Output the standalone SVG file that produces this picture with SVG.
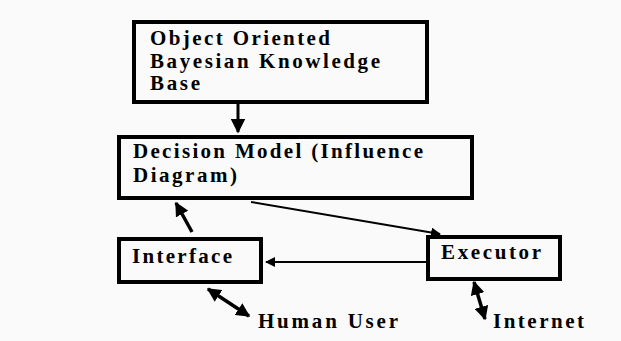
<svg xmlns="http://www.w3.org/2000/svg" width="621" height="341" viewBox="0 0 621 341">
<defs>
<marker id="ah" viewBox="0 0 10 10" refX="9" refY="5" markerWidth="5" markerHeight="5" markerUnits="strokeWidth" orient="auto-start-reverse">
<path d="M0,0 L10,5 L0,10 z" fill="#000"/>
</marker>
<marker id="ah2" viewBox="0 0 10 10" refX="9" refY="5" markerWidth="4" markerHeight="4" markerUnits="strokeWidth" orient="auto-start-reverse">
<path d="M0,0 L10,5 L0,10 z" fill="#000"/>
</marker>
</defs>
<style>
.box{fill:#fafafa;stroke:#000;stroke-width:4}
.c{stroke:#000;fill:none}
</style>
<rect width="621" height="341" fill="#fafafa"/>
<g id="connectors">
<line class="c" x1="238" y1="103" x2="238" y2="132" stroke-width="3" marker-end="url(#ah)"/>
<line class="c" x1="251" y1="202" x2="440" y2="234" stroke-width="2" marker-end="url(#ah)"/>
<line class="c" x1="428" y1="262" x2="266" y2="262" stroke-width="2" marker-end="url(#ah)"/>
<line class="c" x1="192" y1="232" x2="176" y2="203" stroke-width="3.5" marker-end="url(#ah2)"/>
<line class="c" x1="208" y1="289" x2="249" y2="316" stroke-width="3.5" marker-start="url(#ah2)" marker-end="url(#ah2)"/>
<line class="c" x1="474" y1="282" x2="485" y2="319" stroke-width="3.5" marker-start="url(#ah2)" marker-end="url(#ah2)"/>
</g>
<g font-family="Liberation Serif, DejaVu Serif, serif" font-weight="bold" font-size="21" fill="#000">
<g id="kb">
<rect class="box" x="134" y="22" width="293" height="80"/>
<text x="150" y="45" textLength="180" lengthAdjust="spacing">Object Oriented</text>
<text x="150" y="68" textLength="230" lengthAdjust="spacing">Bayesian Knowledge</text>
<text x="150" y="90" textLength="50" lengthAdjust="spacing">Base</text>
</g>
<g id="decision">
<rect class="box" x="119" y="137" width="353" height="61"/>
<text x="133" y="158" textLength="290" lengthAdjust="spacing">Decision Model (Influence</text>
<text x="133" y="182" textLength="104" lengthAdjust="spacing">Diagram)</text>
</g>
<g id="interface">
<rect class="box" x="119" y="239" width="142" height="43"/>
<text x="132" y="263" textLength="100" lengthAdjust="spacing">Interface</text>
</g>
<g id="executor">
<rect class="box" x="428" y="237" width="132" height="42"/>
<text x="441" y="259" textLength="100" lengthAdjust="spacing">Executor</text>
</g>
<g id="human">
<text x="258" y="328" textLength="140" lengthAdjust="spacing">Human User</text>
</g>
<g id="internet">
<text x="493" y="328" textLength="91" lengthAdjust="spacing">Internet</text>
</g>
</g>
</svg>
